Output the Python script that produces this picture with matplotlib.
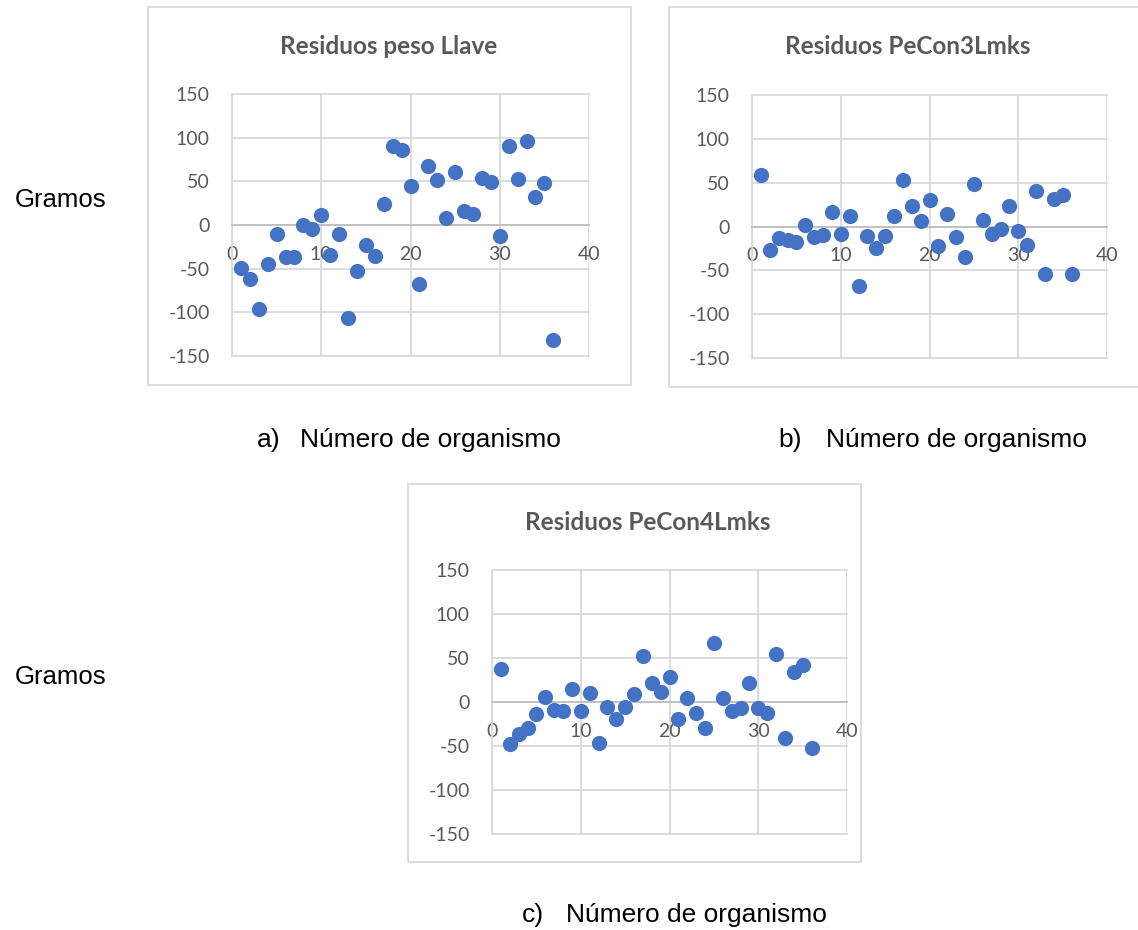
import numpy as np
import matplotlib.pyplot as plt
from matplotlib.patches import Rectangle

# excel uses a plain hyphen for negatives
plt.rcParams['axes.unicode_minus'] = False

# residuals per organism
organismo = list(range(1, 37))

res_llave = [-49, -62, -96, -45, -10, -37, -37, 0, -5, 12,
             -34, -10, -106, -53, -23, -36, 24, 90, 86, 45,
             -67, 68, 51, 8, 61, 16, 13, 54, 49, -13,
             90, 53, 96, 32, 48, -132]

res_3lmks = [59, -27, -13, -15, -18, 2, -12, -10, 17, -9,
             12, -68, -11, -24, -11, 12, 53, 23, 6, 30,
             -22, 14, -12, -35, 48, 7, -9, -3, 23, -5,
             -21, 41, -54, 31, 36, -54]

res_4lmks = [37, -48, -36, -30, -14, 6, -9, -10, 15, -10,
             10, -47, -6, -19, -6, 9, 52, 22, 11, 28,
             -19, 5, -12, -30, 67, 5, -10, -7, 22, -7,
             -12, 55, -41, 34, 42, -52]

titulos = ['Residuos peso Llave', 'Residuos PeCon3Lmks', 'Residuos PeCon4Lmks']
xticks = [0, 10, 20, 30, 40]
yticks = [-150, -100, -50, 0, 50, 100, 150]

W, H = 1138, 930
gris = '#595959'
azul = '#4472C4'

fig = plt.figure(figsize=(W / 100, H / 100), dpi=100)


def fx(x):
    return x / W


def fy(y):
    return 1 - y / H


def panel(data, titulo, frame, area, title_pos):
    # light gray chart border like excel
    fl, ft, fr, fb = frame
    fig.add_artist(Rectangle((fx(fl), fy(fb)), fx(fr - fl), (fb - ft) / H,
                             transform=fig.transFigure, fill=False,
                             edgecolor='#D9D9D9', linewidth=1.3))
    l, t, r, b = area
    ax = fig.add_axes([fx(l), fy(b), fx(r - l), (b - t) / H])
    ax.set_axisbelow(True)
    ax.scatter(organismo, data, s=120, color=azul, zorder=3, clip_on=False,
               linewidths=0)
    ax.set_xlim(0, 40)
    ax.set_ylim(-150, 150)
    ax.set_xticks(xticks)
    ax.set_yticks(yticks)
    ax.grid(True, color='#D9D9D9', linewidth=1.3)
    for ln in ax.get_xgridlines() + ax.get_ygridlines():
        ln.set_clip_on(False)
    for s in ['top', 'right']:
        ax.spines[s].set_visible(False)
    ax.spines['left'].set_color('#D9D9D9')
    ax.spines['left'].set_linewidth(1.3)
    ax.spines['bottom'].set_position(('data', 0))
    ax.spines['bottom'].set_color('#BFBFBF')
    ax.spines['bottom'].set_linewidth(1.3)
    ax.tick_params(axis='x', length=0, pad=15, labelsize=14, labelcolor=gris)
    ax.tick_params(axis='y', length=0, pad=16, labelsize=14, labelcolor=gris)
    for lab in ax.get_xticklabels() + ax.get_yticklabels():
        lab.set_fontfamily('Lato')
    fig.text(fx(title_pos[0]), fy(title_pos[1]), titulo, ha='center',
             va='center', fontsize=17.5, fontweight='bold', color=gris,
             family='Lato')
    return ax


panel(res_llave, titulos[0], (148, 7, 631, 385), (232, 94, 589, 356), (389, 46))
panel(res_3lmks, titulos[1], (669, 7, 1145, 387), (752, 95, 1107, 358), (908, 46))
panel(res_4lmks, titulos[2], (408, 484, 861, 862), (492, 570, 847, 834), (648, 523))

lab_kw = dict(family='Liberation Sans', color='black', va='center')
fig.text(fx(15), fy(200), 'Gramos', ha='left', fontsize=18.5, **lab_kw)
fig.text(fx(15), fy(677), 'Gramos', ha='left', fontsize=18.5, **lab_kw)
fig.text(fx(257), fy(440), 'a)', ha='left', fontsize=19, **lab_kw)
fig.text(fx(300), fy(440), 'Número de organismo', ha='left', fontsize=19, **lab_kw)
fig.text(fx(778), fy(440), 'b)', ha='left', fontsize=19, **lab_kw)
fig.text(fx(826), fy(440), 'Número de organismo', ha='left', fontsize=19, **lab_kw)
fig.text(fx(522), fy(915), 'c)', ha='left', fontsize=19, **lab_kw)
fig.text(fx(566), fy(915), 'Número de organismo', ha='left', fontsize=19, **lab_kw)

fig.savefig('out.png', dpi=100)
